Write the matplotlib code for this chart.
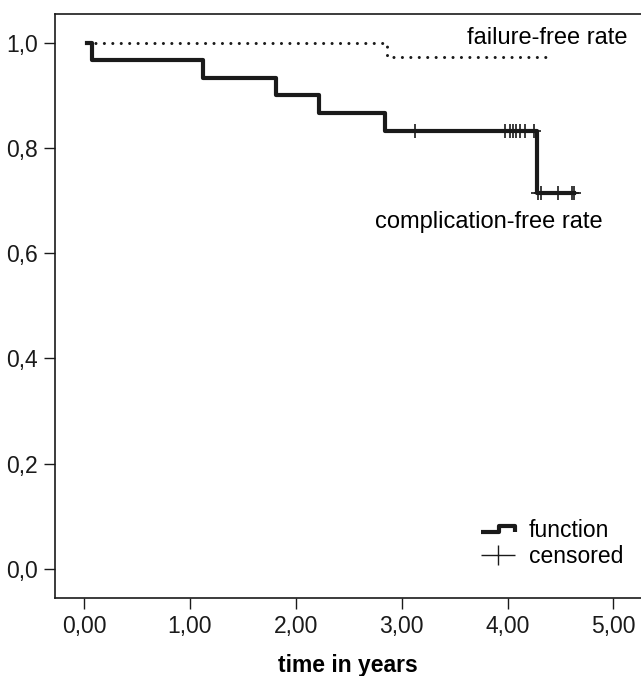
import matplotlib
matplotlib.use("Agg")
import matplotlib.pyplot as plt
from matplotlib.lines import Line2D
from matplotlib.path import Path

plt.rcParams['font.family'] = ['Liberation Sans', 'DejaVu Sans']

# complication-free rate (Kaplan-Meier step curve)
comp_t = [0.03, 0.08, 1.12, 1.81, 2.22, 2.84, 4.28, 4.63]
comp_s = [1.000, 0.967, 0.933, 0.900, 0.867, 0.833, 0.714, 0.714]
# censored observations
cens_t = [3.13, 3.98, 4.02, 4.05, 4.08, 4.12, 4.16, 4.25, 4.29, 4.32, 4.48, 4.61, 4.63]
cens_s = [0.833, 0.833, 0.833, 0.833, 0.833, 0.833, 0.833, 0.833, 0.714, 0.714, 0.714, 0.714, 0.714]

# failure-free rate
fail_t = [0.03, 2.86, 4.42]
fail_s = [1.000, 0.973, 0.973]

xticks = [0, 1, 2, 3, 4, 5]
yticks = [0.0, 0.2, 0.4, 0.6, 0.8, 1.0]

col = '#1a1a1a'
fs = 16.5

fig = plt.figure(figsize=(6.41, 6.76), dpi=100)
ax = fig.add_axes([0.0853, 0.1154, 0.9147, 0.8636])

ax.plot(fail_t, fail_s, drawstyle='steps-post', color=col, lw=2.2,
        linestyle=(0, (0.01, 2.75)), dash_capstyle='round', zorder=2)
ax.plot(comp_t, comp_s, drawstyle='steps-post', color=col, lw=3.0, zorder=3)
ax.plot(cens_t, cens_s, linestyle='none', marker='+', markersize=9.5,
        markeredgewidth=1.2, color=col, zorder=4)

ax.text(5.13, 1.009, 'failure-free rate', ha='right', va='center', fontsize=17)
ax.text(4.90, 0.659, 'complication-free rate', ha='right', va='center', fontsize=17)

ax.set_xlim(-0.277, 5.26)
ax.set_ylim(-0.0557, 1.0546)
ax.set_xticks(xticks)
ax.set_xticklabels([('%.2f' % v).replace('.', ',') for v in xticks])
ax.set_yticks(yticks)
ax.set_yticklabels([('%.1f' % v).replace('.', ',') for v in yticks])
ax.tick_params(direction='out', length=8, width=1, labelsize=fs, colors=col, pad=4)
ax.spines['right'].set_visible(False)
for s in ['left', 'top', 'bottom']:
    ax.spines[s].set_linewidth(1.2)
    ax.spines[s].set_color(col)

ax.set_xlabel('time in years', fontsize=fs, fontweight='bold', labelpad=12)

step_icon = Path([(-1.0, -0.15), (0.05, -0.15), (0.05, 0.15), (1.0, 0.15), (1.0, -0.15)],
                 [Path.MOVETO, Path.LINETO, Path.LINETO, Path.LINETO, Path.LINETO])
plus_icon = Path([(-1.0, 0.0), (1.0, 0.0), (0.0, -0.6), (0.0, 0.6)],
                 [Path.MOVETO, Path.LINETO, Path.MOVETO, Path.LINETO])
handles = [
    Line2D([], [], linestyle='none', marker=step_icon, markersize=25,
           markeredgewidth=3.0, fillstyle='none', color=col),
    Line2D([], [], linestyle='none', marker=plus_icon, markersize=25,
           markeredgewidth=1.0, fillstyle='none', color=col),
]
ax.legend(handles, ['function', 'censored'], loc='lower right',
          bbox_to_anchor=(1.005, 0.016), frameon=False, fontsize=fs,
          handlelength=2.0, handletextpad=0.35, labelspacing=0.15)

fig.savefig('out.png', dpi=100)
